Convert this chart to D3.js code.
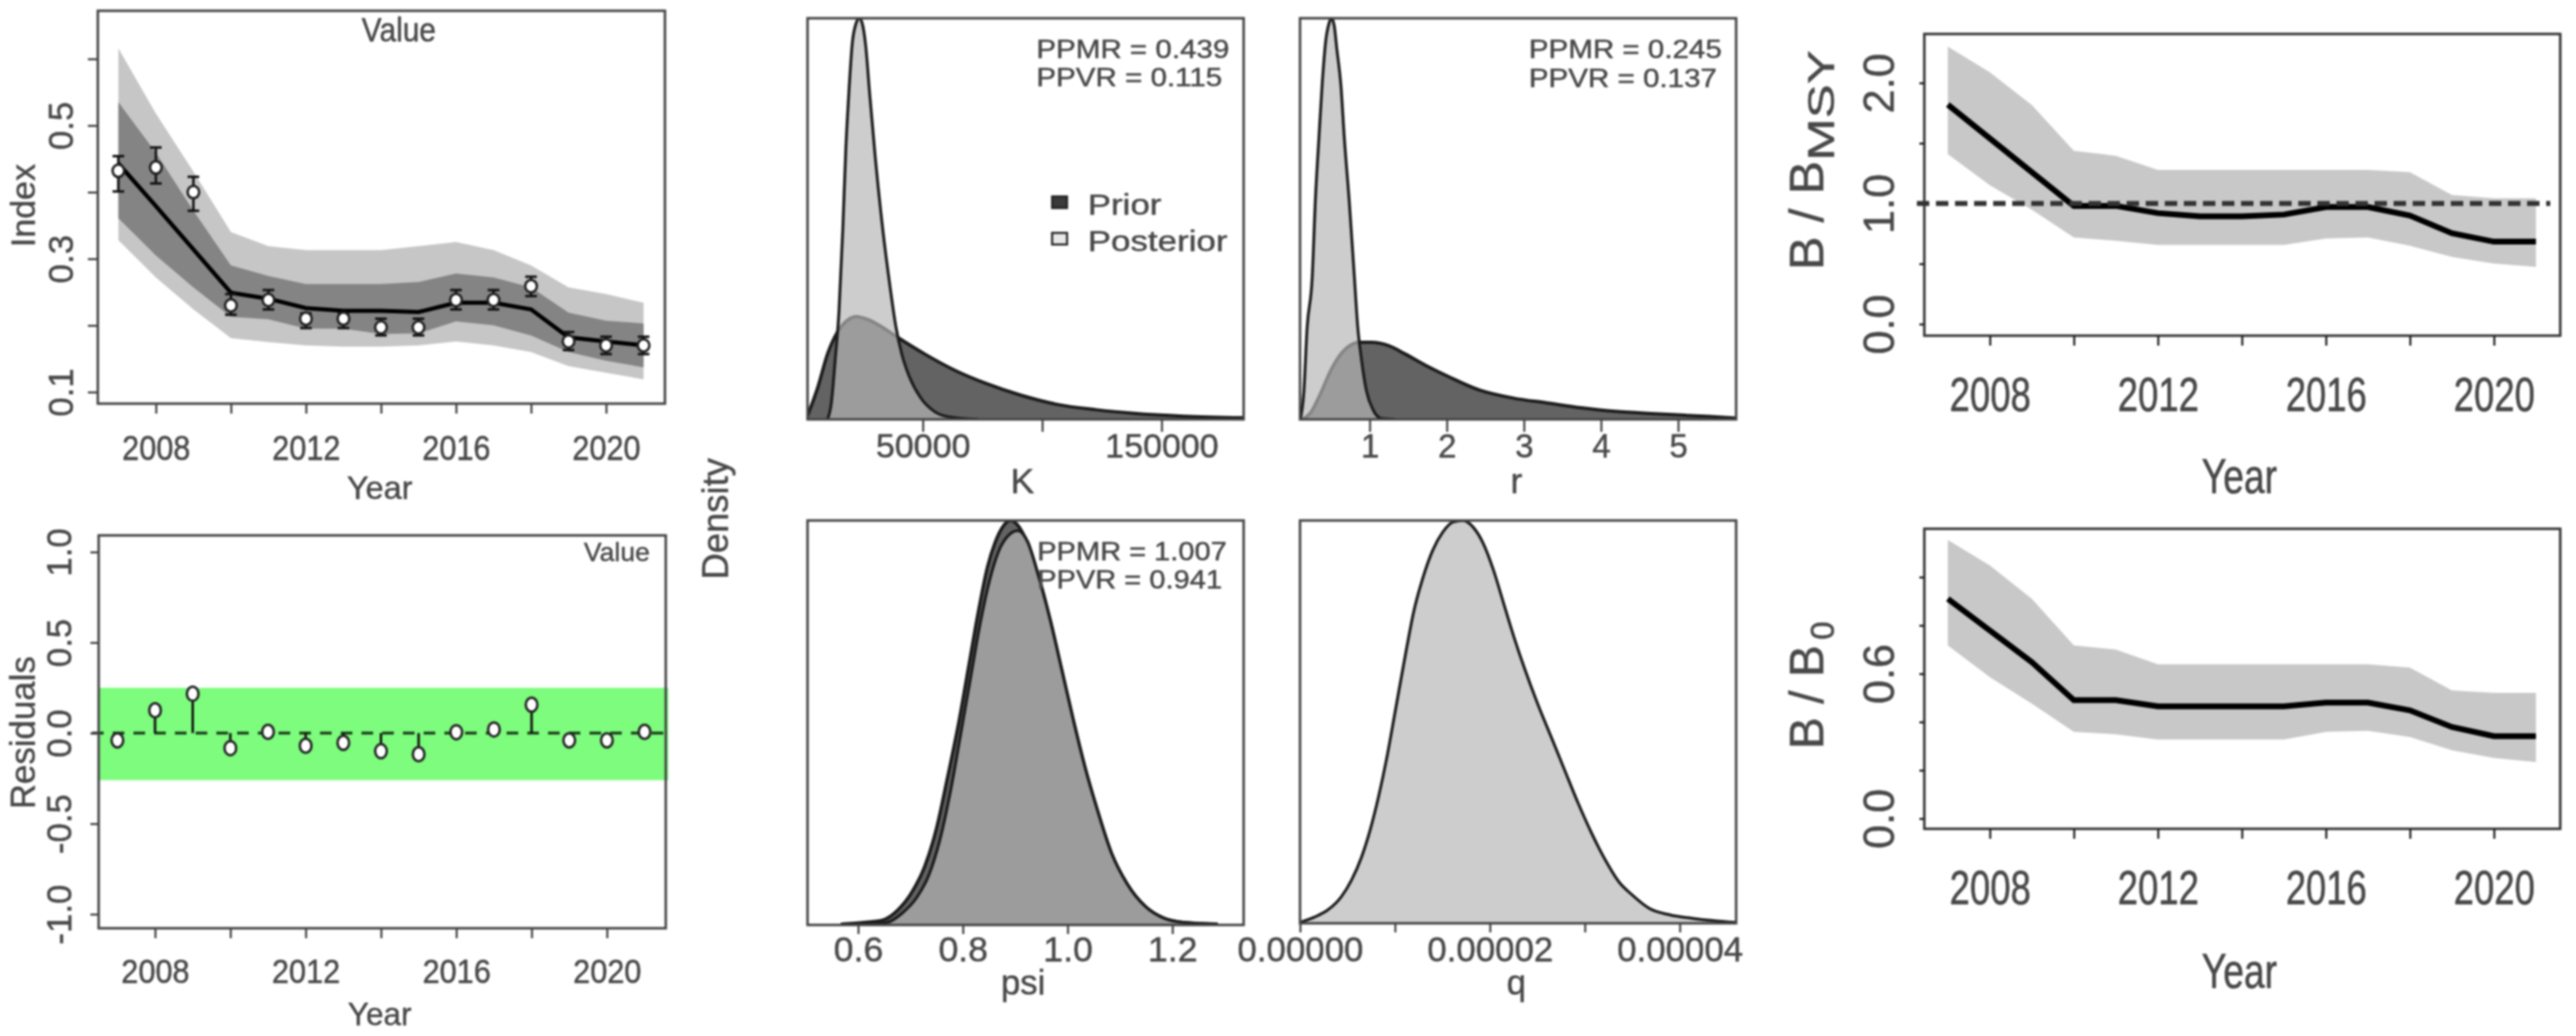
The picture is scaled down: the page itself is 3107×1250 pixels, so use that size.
<!DOCTYPE html>
<html lang="en">
<head>
    <meta charset="UTF-8">
    <title>Surplus production model diagnostics</title>
    <script src="https://d3js.org/d3.v7.min.js"></script>
    <style>
        html, body { margin: 0; padding: 0; background: #fff; }
        svg { display: block; filter: blur(0.8px); }
        text { font-family: "Liberation Sans", Arial, sans-serif; fill: #484848; stroke: #484848; stroke-width: 0.5px; }
    </style>
</head>
<body>
<svg width="3107" height="1250"></svg>
<script>
    // Time series panels
    const years = [2007, 2008, 2009, 2010, 2011, 2012, 2013, 2014, 2015, 2016, 2017, 2018, 2019, 2020, 2021];
    const yearTicks = [2008, 2010, 2012, 2014, 2016, 2018, 2020];

    const indexObs = [.432, .437, .40, .23, .238, .21, .21, .197, .197, .238, .238, .259, .176, .17, .17];
    const indexObsHi = [.454, .467, .423, .247, .253, .218, .218, .21, .21, .253, .253, .273, .19, .183, .183];
    const indexObsLo = [.401, .413, .372, .216, .224, .196, .196, .185, .185, .224, .224, .244, .163, .157, .157];
    const indexFit = [.443, .379, .314, .249, .24, .226, .222, .222, .22, .234, .234, .224, .182, .176, .17];
    const index50Hi = [.535, .459, .372, .29, .274, .262, .262, .262, .265, .278, .272, .257, .219, .207, .203];
    const index50Lo = [.361, .305, .257, .213, .209, .195, .195, .187, .188, .206, .2, .185, .16, .147, .137];
    const index95Hi = [.616, .518, .431, .34, .319, .313, .313, .313, .319, .325, .313, .29, .257, .247, .234];
    const index95Lo = [.328, .272, .224, .181, .175, .17, .168, .168, .17, .176, .17, .16, .139, .129, .119];

    const residuals = [-.04, .126, .217, -.083, .007, -.07, -.054, -.10, -.117, .005, .02, .157, -.04, -.04, .007];
    const residualBand = [-.26, .25];

    const bmsyLine = [1.82, 1.54, 1.26, .98, .98, .92, .894, .894, .908, .97, .97, .90, .753, .683, .683];
    const bmsyHi = [2.30, 2.087, 1.816, 1.436, 1.396, 1.279, 1.279, 1.279, 1.279, 1.279, 1.279, 1.26, 1.07, 1.043, 1.043];
    const bmsyLo = [1.409, 1.152, .949, .718, .691, .656, .656, .656, .656, .71, .718, .65, .556, .501, .474];

    const b0Line = [.91, .779, .648, .49, .49, .465, .465, .465, .465, .48, .48, .448, .379, .341, .341];
    const b0Hi = [1.154, 1.048, .91, .717, .70, .639, .639, .639, .639, .639, .639, .625, .531, .52, .52];
    const b0Lo = [.717, .586, .476, .359, .349, .327, .327, .327, .327, .359, .363, .338, .283, .251, .234];

    // Density panels, density scaled so the tallest curve is 1
    const kPriorX = [1670, 6140, 10100, 14100, 18900, 22100, 26900, 33250, 39600, 50800, 63560, 76300, 90700, 106600, 122600, 138500, 159300, 184500];
    const kPriorD = [.008, .082, .163, .216, .249, .256, .249, .229, .204, .163, .122, .09, .061, .037, .024, .015, .008, .004];
    const kPostX = [10100, 11700, 13300, 14900, 16500, 17800, 18900, 20500, 22100, 23400, 24600, 26100, 27700, 30100, 33250, 36400, 38800, 41200, 44400, 49200, 54800, 60400, 73100];
    const kPostD = [0, .041, .147, .269, .473, .678, .80, .939, .988, 1, .988, .931, .816, .653, .473, .326, .229, .163, .106, .053, .02, .007, 0];

    const rPriorX = [.123, .232, .364, .496, .627, .759, .868, 1.022, 1.241, 1.461, 1.724, 2.031, 2.425, 2.864, 3.303, 3.741, 4.18, 4.706, 5.408, 5.75];
    const rPriorD = [0, .016, .065, .122, .163, .186, .192, .192, .184, .163, .135, .106, .073, .053, .041, .029, .02, .014, .007, .003];
    const rPostX = [.101, .145, .189, .254, .298, .342, .386, .43, .474, .504, .539, .575, .627, .671, .737, .803, .846, .89, .956, 1.044, 1.154, 1.329];
    const rPostD = [0, .065, .229, .351, .555, .702, .841, .943, .988, 1, .983, .922, .833, .702, .539, .351, .229, .155, .073, .024, .002, 0];

    const psiPriorX = [.567, .611, .647, .676, .705, .727, .749, .771, .793, .811, .829, .847, .862, .876, .891, .905, .924, .945, .967, .989, 1.011, 1.033, 1.055, 1.084, 1.113, 1.149, 1.185, 1.222, 1.287];
    const psiPriorD = [.002, .006, .012, .037, .086, .144, .235, .366, .506, .638, .77, .885, .947, .984, 1, .988, .942, .86, .753, .63, .506, .391, .292, .177, .103, .045, .016, .006, .002];
    const psiPostX = [.604, .655, .684, .713, .735, .756, .778, .796, .815, .833, .851, .869, .887, .905, .924, .945, .967, .989, 1.011, 1.033, 1.055, 1.084, 1.113, 1.149, 1.185, 1.222, 1.28];
    const psiPostD = [0, .006, .029, .07, .123, .21, .342, .473, .613, .745, .852, .926, .963, .975, .947, .86, .753, .63, .506, .391, .292, .177, .103, .045, .016, .006, .002];

    // q in units of 1e-5
    const qPostX = [0, .15, .292, .435, .542, .649, .738, .827, .916, 1.005, 1.112, 1.201, 1.291, 1.398, 1.504, 1.611, 1.718, 1.825, 1.932, 2.039, 2.146, 2.253, 2.36, 2.503, 2.645, 2.788, 2.93, 3.073, 3.216, 3.358, 3.501, 3.679, 3.893, 4.143, 4.599];
    const qPostD = [.002, .015, .033, .066, .107, .165, .231, .314, .413, .529, .669, .777, .855, .926, .971, .996, 1, .983, .942, .876, .793, .711, .636, .545, .463, .38, .298, .223, .157, .103, .07, .037, .021, .012, .002];

    const svg = d3.select("svg");
    const zip = (xs, ys) => xs.map((x, i) => [x, ys[i]]);

    function addText(str, x, y, size, opts = {}) {
        const { rotate = 0, sx = 1, sy = 1, anchor = "middle" } = opts;
        return svg.append("text")
            .attr("transform", `translate(${x},${y}) rotate(${rotate}) scale(${sx},${sy})`)
            .attr("text-anchor", anchor)
            .style("font-size", size + "px")
            .text(str);
    }

    function frame(box, color = "#444") {
        svg.append("rect")
            .attr("x", box.l).attr("y", box.t)
            .attr("width", box.r - box.l).attr("height", box.b - box.t)
            .attr("fill", "none").attr("stroke", color).attr("stroke-width", 3);
    }

    function clipFor(id, box) {
        svg.append("clipPath").attr("id", id).append("rect")
            .attr("x", box.l).attr("y", box.t)
            .attr("width", box.r - box.l).attr("height", box.b - box.t);
    }

    function bottomAxis(box, scale, values, labels, o) {
        const g = svg.append("g").attr("transform", `translate(0,${box.b})`)
            .call(d3.axisBottom(scale).tickValues(values).tickSizeOuter(0).tickSize(o.len)
                .tickFormat(d => labels[d] || ""));
        g.select(".domain").remove();
        g.selectAll("line").attr("stroke", o.color || "#444").attr("stroke-width", 2.5);
        g.selectAll("text").attr("x", null).attr("y", null).attr("dy", null)
            .attr("transform", `translate(0,${o.offset}) scale(${o.sx || 1},${o.sy || 1})`)
            .style("font-size", o.size + "px");
        g.attr("font-family", null).attr("font-size", null);
    }

    function leftAxis(box, scale, values, labels, o) {
        const g = svg.append("g").attr("transform", `translate(${box.l},0)`)
            .call(d3.axisLeft(scale).tickValues(values).tickSizeOuter(0).tickSize(o.len)
                .tickFormat(d => labels[d] || ""));
        g.select(".domain").remove();
        g.selectAll("line").attr("stroke", o.color || "#444").attr("stroke-width", 2.5);
        g.selectAll("text").attr("x", null).attr("y", null).attr("dy", null)
            .attr("text-anchor", "middle")
            .attr("transform", `translate(${-o.offset},0) rotate(-90)`)
            .style("font-size", o.size + "px");
        g.attr("font-family", null).attr("font-size", null);
    }

    const yearLabels = { 2008: "2008", 2012: "2012", 2016: "2016", 2020: "2020" };

    // ---- Index fit ----
    {
        const box = { l: 118, r: 802, t: 13, b: 487 };
        const x = d3.scaleLinear().domain([2008, 2020]).range([188, 731]);
        const y = d3.scaleLinear().domain([.1, .6]).range([473, 71]);
        const band = d3.area().x((d, i) => x(years[i])).y0(d => y(d[0])).y1(d => y(d[1]));

        svg.append("path").attr("d", band(zip(index95Lo, index95Hi))).attr("fill", "#c6c6c6");
        svg.append("path").attr("d", band(zip(index50Lo, index50Hi))).attr("fill", "#848484");
        svg.append("path")
            .attr("d", d3.line().x((d, i) => x(years[i])).y(d => y(d))(indexFit))
            .attr("fill", "none").attr("stroke", "#000").attr("stroke-width", 5);

        years.forEach((yr, i) => {
            const g = svg.append("g").attr("stroke", "#111").attr("stroke-width", 3);
            g.append("line").attr("x1", x(yr)).attr("x2", x(yr)).attr("y1", y(indexObsLo[i])).attr("y2", y(indexObsHi[i]));
            [indexObsLo[i], indexObsHi[i]].forEach(v => {
                g.append("line").attr("x1", x(yr) - 7).attr("x2", x(yr) + 7).attr("y1", y(v)).attr("y2", y(v));
            });
            g.append("ellipse").attr("cx", x(yr)).attr("cy", y(indexObs[i])).attr("rx", 7).attr("ry", 7.5)
                .attr("fill", "#fff").attr("stroke", "#222").attr("stroke-width", 3);
        });

        frame(box);
        bottomAxis(box, x, yearTicks, yearLabels, { len: 12, offset: 68, size: 37, sy: 1.15 });
        leftAxis(box, y, [.1, .2, .3, .4, .5, .6], { .1: "0.1", .3: "0.3", .5: "0.5" }, { len: 12, offset: 30, size: 42 });
        addText("Year", 458, 602, 39);
        addText("Index", 42, 248, 41, { rotate: -90 });
        addText("Value", 481, 50, 36, { sy: 1.15 });
    }

    // ---- Residuals ----
    {
        const box = { l: 119, r: 803, t: 646, b: 1120 };
        const x = d3.scaleLinear().domain([2008, 2020]).range([187, 732]);
        const y = d3.scaleLinear().domain([-1, 1]).range([1103, 666]);

        svg.append("rect").attr("x", box.l).attr("width", box.r - box.l + 3)
            .attr("y", y(residualBand[1])).attr("height", y(residualBand[0]) - y(residualBand[1]))
            .attr("fill", "#7dfc7d");
        svg.append("line").attr("x1", box.l - 8).attr("x2", box.r).attr("y1", y(0)).attr("y2", y(0))
            .attr("stroke", "#1d3d1d").attr("stroke-width", 3.5).attr("stroke-dasharray", "14 11");

        years.forEach((yr, i) => {
            svg.append("line").attr("x1", x(yr)).attr("x2", x(yr)).attr("y1", y(0)).attr("y2", y(residuals[i]))
                .attr("stroke", "#111").attr("stroke-width", 3);
            svg.append("ellipse").attr("cx", x(yr)).attr("cy", y(residuals[i])).attr("rx", 7).attr("ry", 8.5)
                .attr("fill", "#fff").attr("stroke", "#222").attr("stroke-width", 3);
        });

        frame(box);
        bottomAxis(box, x, yearTicks, yearLabels, { len: 12, offset: 66, size: 37, sy: 1.1 });
        leftAxis(box, y, [-1, -.5, 0, .5, 1], { "-1": "-1.0", "-0.5": "-0.5", 0: "0.0", .5: "0.5", 1: "1.0" }, { len: 10, offset: 33, size: 42 });
        addText("Year", 458, 1237, 38);
        addText("Residuals", 42, 884, 42, { rotate: -90 });
        addText("Value", 744, 677, 32);
    }

    // ---- Density panels ----
    function densityPanel(id, box, xDomain, xRange, prior, post) {
        const x = d3.scaleLinear().domain(xDomain).range(xRange);
        const y = d3.scaleLinear().domain([0, 1]).range([box.b, box.t]);
        clipFor(id, box);
        const g = svg.append("g").attr("clip-path", `url(#${id})`);
        const area = d3.area().x(d => x(d[0])).y0(box.b).y1(d => y(d[1])).curve(d3.curveMonotoneX);
        const line = d3.line().x(d => x(d[0])).y(d => y(d[1])).curve(d3.curveMonotoneX);
        if (prior) {
            g.append("path").attr("d", area(prior)).attr("fill", "#636363");
            g.append("path").attr("d", line(prior)).attr("fill", "none").attr("stroke", "#1c1c1c").attr("stroke-width", 4);
        }
        g.append("path").attr("d", area(post)).attr("fill", "rgb(182,182,182)").attr("fill-opacity", .686);
        g.append("path").attr("d", line(post)).attr("fill", "none").attr("stroke", "#1c1c1c").attr("stroke-width", 3.5);
        frame(box);
        return x;
    }

    const kBox = { l: 974, r: 1500, t: 22, b: 506 };
    const kX = densityPanel("clipK", kBox, [50000, 150000], [1113, 1401], zip(kPriorX, kPriorD), zip(kPostX, kPostD));
    bottomAxis(kBox, kX, [50000, 100000, 150000], { 50000: "50000", 150000: "150000" }, { len: 15, offset: 46, size: 41 });
    addText("K", 1233, 595, 43);
    addText("PPMR = 0.439", 1250, 70, 31, { anchor: "start", sx: 1.15 });
    addText("PPVR = 0.115", 1250, 104, 31, { anchor: "start", sx: 1.15 });

    const rBox = { l: 1568, r: 2094, t: 22, b: 506 };
    const rX = densityPanel("clipR", rBox, [1, 5], [1652, 2024], zip(rPriorX, rPriorD), zip(rPostX, rPostD));
    bottomAxis(rBox, rX, [1, 2, 3, 4, 5], { 1: "1", 2: "2", 3: "3", 4: "4", 5: "5" }, { len: 15, offset: 46, size: 40 });
    addText("r", 1829, 595, 42);
    addText("PPMR = 0.245", 1844, 70, 31, { anchor: "start", sx: 1.15 });
    addText("PPVR = 0.137", 1844, 105, 31, { anchor: "start", sx: 1.15 });

    const psiBox = { l: 974, r: 1500, t: 628, b: 1116 };
    const psiX = densityPanel("clipPsi", psiBox, [.6, 1.2], [1035, 1414], zip(psiPriorX, psiPriorD), zip(psiPostX, psiPostD));
    bottomAxis(psiBox, psiX, [.6, .8, 1, 1.2], { .6: "0.6", .8: "0.8", 1: "1.0", 1.2: "1.2" }, { len: 11, offset: 44, size: 43 });
    addText("psi", 1234, 1200, 42);
    addText("PPMR = 1.007", 1251, 676, 31, { anchor: "start", sx: 1.13 });
    addText("PPVR = 0.941", 1251, 710, 31, { anchor: "start", sx: 1.13 });

    const qBox = { l: 1568, r: 2094, t: 628, b: 1114 };
    const qX = densityPanel("clipQ", qBox, [0, 4], [1568, 2026], null, zip(qPostX, qPostD));
    bottomAxis(qBox, qX, [0, 1, 2, 3, 4], { 0: "0.00000", 2: "0.00002", 4: "0.00004" }, { len: 11, offset: 46, size: 42 });
    addText("q", 1829, 1200, 42);

    // legend in the K panel
    const legendItems = ["Prior", "Posterior"];
    const legendFill = ["#3a3a3a", "#e8e8e8"];
    legendItems.forEach((name, i) => {
        const cy = [244, 288][i];
        svg.append("rect").attr("x", 1269).attr("y", cy - 7).attr("width", 18).attr("height", 14)
            .attr("fill", legendFill[i]).attr("stroke", "#222").attr("stroke-width", 2.5);
        addText(name, 1312, [259, 303][i], 36, { anchor: "start", sx: 1.17 });
    });

    addText("Density", 878, 626, 44, { rotate: -90 });

    // ---- B/BMSY and B/B0 ----
    function biomassPanel(box, yDomain, yRange, yTicks, yLabels, hi, lo, mid) {
        const x = d3.scaleLinear().domain([2008, 2020]).range([2400, 3008]);
        const y = d3.scaleLinear().domain(yDomain).range(yRange);
        const band = d3.area().x((d, i) => x(years[i])).y0(d => y(d[0])).y1(d => y(d[1]));
        svg.append("path").attr("d", band(zip(lo, hi))).attr("fill", "#c8c8c8");
        svg.append("path")
            .attr("d", d3.line().x((d, i) => x(years[i])).y(d => y(d))(mid))
            .attr("fill", "none").attr("stroke", "#000").attr("stroke-width", 7);
        frame(box, "#333");
        bottomAxis(box, x, yearTicks, yearLabels, { len: 12, offset: 91, size: 44, sy: 1.3, color: "#222" });
        leftAxis(box, y, yTicks, yLabels, { len: 6, offset: 37, size: 52, color: "#222" });
        return y;
    }

    const bmsyBox = { l: 2321, r: 3088, t: 41, b: 405 };
    const bmsyY = biomassPanel(bmsyBox, [0, 2], [391, 100], [0, .5, 1, 1.5, 2], { 0: "0.0", 1: "1.0", 2: "2.0" }, bmsyHi, bmsyLo, bmsyLine);
    svg.append("line").attr("x1", 2312).attr("x2", 3076).attr("y1", bmsyY(1)).attr("y2", bmsyY(1))
        .attr("stroke", "#333").attr("stroke-width", 6).attr("stroke-dasharray", "15 8");
    addText("Year", 2701, 595, 45, { sy: 1.3 });

    const b0Box = { l: 2321, r: 3088, t: 638, b: 1000 };
    biomassPanel(b0Box, [0, 1], [987.6, 696.3], [0, .2, .4, .6, .8, 1], { 0: "0.0", .6: "0.6" }, b0Hi, b0Lo, b0Line);
    addText("Year", 2701, 1192, 45, { sy: 1.3 });

    addText("B / B", 2199, 326, 58, { rotate: -90, anchor: "start", sx: 1.05 });
    addText("MSY", 2212, 194, 44, { rotate: -90, anchor: "start", sx: 1.4 });
    addText("B / B", 2199, 904, 58, { rotate: -90, anchor: "start" });
    addText("0", 2212, 772, 40, { rotate: -90, anchor: "start" });
</script>
</body>
</html>
